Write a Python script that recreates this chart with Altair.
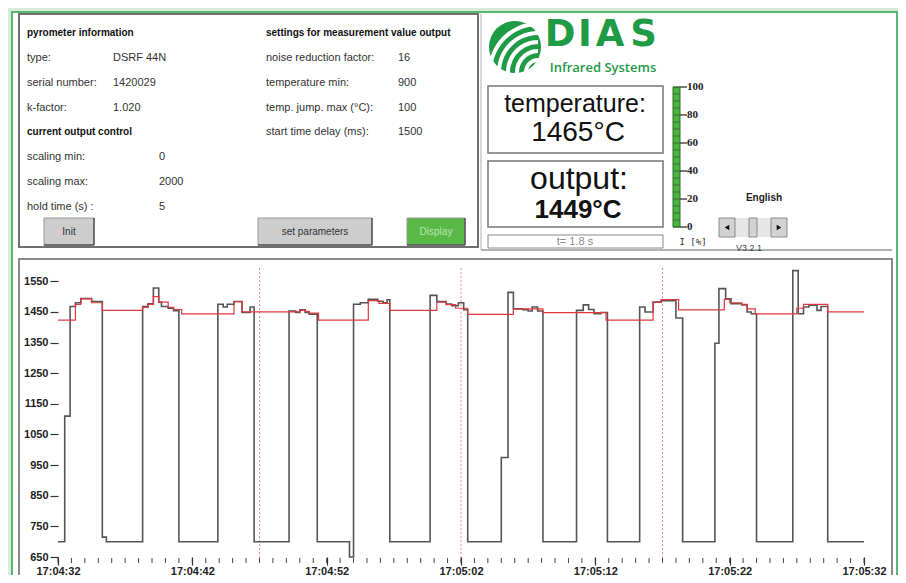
import altair as alt
import pandas as pd

# ---------------- data ----------------
# seconds after 17:04:32
black_t = [0.0, 0.5, 0.9, 1.3, 1.7, 2.5, 3.3, 3.6, 6.3, 6.7, 7.1, 7.5, 7.7, 8.2, 8.6, 9.0,
           11.9, 12.3, 12.6, 13.1, 13.7, 14.3, 14.6, 17.2, 17.7, 18.0, 18.4, 18.7, 19.3,
           21.7, 22.0, 22.5, 23.1, 23.8, 24.2, 24.5, 24.7, 27.7, 28.2, 28.9, 29.3, 29.8,
           30.2, 30.5, 33.0, 33.5, 33.9, 34.6, 35.0, 35.3, 35.7, 36.1, 38.6, 39.1, 39.5,
           39.9, 40.4, 40.9, 43.3, 43.7, 44.3, 44.9, 46.0, 46.5, 48.9, 49.2, 49.7, 50.1,
           50.9, 51.3, 51.6, 52.0, 54.7, 55.1, 55.5, 55.9, 56.5, 56.8, 57.3, 60.0]
black_v = [700, 1110, 1468, 1480, 1494, 1484, 715, 700, 1468, 1477, 1528, 1482, 1468, 1462, 1454, 700,
           1475, 1466, 1475, 1484, 1448, 1466, 700, 1453, 1448, 1457, 1448, 1443, 700,
           650, 1475, 1480, 1491, 1485, 1480, 1490, 700, 1504, 1484, 1476, 1470, 1480,
           1457, 700, 975, 1514, 1460, 1457, 1453, 1466, 1453, 700, 1455, 1473, 1458,
           1444, 1448, 700, 1466, 1450, 1482, 1487, 1430, 700, 1348, 1526, 1493, 1477,
           1473, 1450, 1444, 700, 1585, 1444, 1466, 1472, 1455, 1468, 700, 700]

red_t = [0.0, 1.3, 1.7, 2.5, 3.3, 6.3, 6.7, 7.1, 7.5, 8.2, 8.6, 9.2, 13.1, 13.7, 18.0, 18.4,
         18.7, 19.4, 23.1, 23.9, 24.7, 28.2, 28.9, 29.6, 30.5, 33.9, 36.1, 40.8, 44.3, 44.9,
         46.2, 49.6, 50.0, 50.9, 51.3, 51.9, 55.0, 55.5, 57.3, 60.0]
red_v = [1423, 1475, 1493, 1480, 1455, 1465, 1475, 1500, 1482, 1465, 1458, 1444, 1484, 1450,
         1456, 1452, 1446, 1423, 1487, 1478, 1455, 1482, 1474, 1462, 1442, 1460, 1448, 1423,
         1482, 1490, 1457, 1491, 1480, 1475, 1460, 1444, 1462, 1475, 1450, 1450]

y_tick_values = [650, 750, 850, 950, 1050, 1150, 1250, 1350, 1450, 1550]
x_tick_seconds = [0, 10, 20, 30, 40, 50, 60]
marker_seconds = [15, 30, 45]
minor_seconds = list(range(0, 61))

info_header = "pyrometer information"
info_labels = ["type:", "serial number:", "k-factor:"]
info_values = ["DSRF 44N", "1420029", "1.020"]
out_header = "current output control"
out_labels = ["scaling min:", "scaling max:", "hold time (s) :"]
out_values = ["0", "2000", "5"]
set_header = "settings for measurement value output"
set_labels = ["noise reduction factor:", "temperature min:", "temp. jump. max (°C):", "start time delay (ms):"]
set_values = ["16", "900", "100", "1500"]
buttons = ["Init", "set parameters", "Display"]
gauge_labels = ["100", "80", "60", "40", "20", "0"]

# ---------------- layout helpers (page pixels -> plot pixels) ----------------
OX, OY = 58, 266
W, H = 806, 291
FONT = "Liberation Sans"


def px(x):
    return x - OX


def py(y):
    return y - OY


one = pd.DataFrame({"k": [0]})
layers = []


def rect(x1, y1, x2, y2, fill=None, stroke=None, sw=1.0):
    kw = {}
    if fill is None:
        kw["fillOpacity"] = 0
        kw["fill"] = "#ffffff"
    else:
        kw["fill"] = fill
    if stroke is not None:
        kw["stroke"] = stroke
        kw["strokeWidth"] = sw
    layers.append(alt.Chart(one).mark_rect(**kw).encode(
        x=alt.value(px(x1)), x2=alt.value(px(x2)), y=alt.value(py(y1)), y2=alt.value(py(y2))))


def line(x1, y1, x2, y2, color="#888", sw=1.0):
    layers.append(alt.Chart(one).mark_rule(color=color, strokeWidth=sw).encode(
        x=alt.value(px(x1)), x2=alt.value(px(x2)), y=alt.value(py(y1)), y2=alt.value(py(y2))))


def text(s, x, y, size=11, weight="normal", color="#333333", align="left", font=FONT):
    layers.append(alt.Chart(one).mark_text(
        text=s, align=align, baseline="middle", fontSize=size, fontWeight=weight,
        color=color, font=font).encode(x=alt.value(px(x)), y=alt.value(py(y))))


# ---------------- frame and panels ----------------
rect(12, 12, 897, 620, fill="#ffffff", stroke="#5ab676", sw=2)
rect(19, 14, 478, 247, fill="#ffffff", stroke="#6f6f6f", sw=2)
line(481, 14, 481, 250, color="#b0b0b0", sw=1)
line(481, 250, 892, 250, color="#9a9a9a", sw=1.5)
rect(19, 259, 892, 620, fill="#ffffff", stroke="#8a8a8a", sw=2)

# left info panel
rows = [57.7, 82.7, 107.7]
text(info_header, 27, 33.3, size=10, weight="bold", color="#111")
for lab, val, yy in zip(info_labels, info_values, rows):
    text(lab, 27, yy)
    text(val, 113, yy)
text(out_header, 27, 131.7, size=10, weight="bold", color="#111")
for lab, val, yy in zip(out_labels, out_values, [156.7, 181.7, 206.7]):
    text(lab, 27, yy)
    text(val, 159, yy)
text(set_header, 266, 33.3, size=10, weight="bold", color="#111")
for lab, val, yy in zip(set_labels, set_values, [57.7, 82.7, 107.7, 131.7]):
    text(lab, 266, yy)
    text(val, 398, yy)

# buttons
btn_boxes = [(44, 218, 94, 245), (258, 218, 372, 245), (407, 218, 465, 245)]
btn_fill = ["#cdcdcd", "#cdcdcd", "#58b947"]
btn_text = ["#333333", "#333333", "#b8e6ab"]
for name, (x1, y1, x2, y2), f, tc in zip(buttons, btn_boxes, btn_fill, btn_text):
    rect(x1, y1, x2, y2, fill=f, stroke="#9a9a9a", sw=1)
    line(x1, y2, x2, y2, color="#555", sw=1.5)
    line(x2, y1, x2, y2, color="#555", sw=1.5)
    text(name, (x1 + x2) / 2, (y1 + y2) / 2, size=10, align="center", color=tc)

# logo
LOGO_G = "#1f9a45"
layers.append(alt.Chart(one).mark_arc(radius=26, theta=0, theta2=6.2832, color=LOGO_G).encode(
    x=alt.value(px(515)), y=alt.value(py(47))))
for r in [10, 19, 28, 37, 46]:
    layers.append(alt.Chart(one).mark_arc(innerRadius=r, outerRadius=r + 4, theta=4.45, theta2=6.2832,
                                          color="#ffffff").encode(
        x=alt.value(px(538)), y=alt.value(py(72))))
for ch, cx in zip("DIAS", [560, 585, 610, 643.5]):
    text(ch, cx, 35, size=37, weight="bold", color=LOGO_G, align="center", font="DejaVu Sans")
text("Infrared Systems", 603, 68, size=13, weight=600, color=LOGO_G, align="center", font="Open Sans")

# value boxes
rect(488, 86, 663, 153, stroke="#777777", sw=1.5)
rect(488, 161, 663, 227, stroke="#777777", sw=1.5)
rect(488, 235, 663, 248, stroke="#888888", sw=1)
text("temperature:", 575, 104, size=25, color="#111", align="center")
text("1465°C", 578, 133, size=28, color="#111", align="center")
text("output:", 579, 179, size=32, color="#111", align="center")
text("1449°C", 578, 210, size=26, weight="bold", color="#111", align="center")
text("t= 1.8 s", 575, 242, size=11, color="#8a8a8a", align="center")

# output gauge
rect(673, 87, 680, 227, fill="#4bb43c", stroke="#2f6f28", sw=1)
for i in range(21):
    yy = 87 + i * 7
    line(673, yy, 680, yy, color="#2d5f27", sw=0.8)
for i, lab in enumerate(gauge_labels):
    yy = 87 + i * 28
    line(680, yy, 687, yy, color="#222", sw=1.2)
    text(lab, 687, yy, size=11, weight="bold", color="#222", font="Liberation Sans Narrow")
text("I [%]", 693, 242, size=9, color="#333", align="center", font="DejaVu Sans Mono")

# language selector
text("English", 764, 198, size=10, weight="bold", color="#222", align="center")
rect(719, 218, 787, 237, fill="#e6e6e6")
rect(719, 218, 735, 237, fill="#d2d2d2", stroke="#8a8a8a", sw=1)
rect(771, 218, 787, 237, fill="#d2d2d2", stroke="#8a8a8a", sw=1)
rect(749, 218, 757, 237, fill="#d2d2d2", stroke="#8a8a8a", sw=1)
layers.append(alt.Chart(one).mark_point(shape="triangle-left", filled=True, size=28, color="#111", opacity=1).encode(
    x=alt.value(px(727)), y=alt.value(py(227.5))))
layers.append(alt.Chart(one).mark_point(shape="triangle-right", filled=True, size=28, color="#111", opacity=1).encode(
    x=alt.value(px(779)), y=alt.value(py(227.5))))
text("V3.2.1", 749, 248, size=9, color="#444", align="center")

# ---------------- main chart ----------------
xs = alt.Scale(domain=[0, 60], nice=False, zero=False)
ysc = alt.Scale(domain=[650, 1600], nice=False, zero=False)

x_axis = alt.Axis(values=x_tick_seconds, title=None, grid=False, domain=False,
                  labelExpr="timeFormat(datetime(2020, 0, 1, 17, 4, 32 + datum.value), '%H:%M:%S')",
                  tickSize=8, tickColor="#333", tickWidth=1.2, labelPadding=0, tickCount=30,
                  labelFont=FONT, labelFontSize=11, labelFontWeight="bold", labelColor="#222",
                  labelFlush=False, labelOverlap=False, zindex=1)
y_axis = alt.Axis(values=y_tick_values, title=None, grid=False, domain=False, format="d",
                  tickSize=8, tickColor="#333", tickWidth=1.2, labelPadding=2, tickCount=30,
                  labelFont=FONT, labelFontSize=11, labelFontWeight="bold", labelColor="#222",
                  labelOverlap=False, zindex=1)

black_df = pd.DataFrame({"t": black_t, "v": black_v})
red_df = pd.DataFrame({"t": red_t, "v": red_v})
marker_df = pd.DataFrame({"t": marker_seconds})
minor_df = pd.DataFrame({"t": minor_seconds})

layers.append(alt.Chart(marker_df).mark_rule(color="#f08a8a", strokeDash=[2, 2], strokeWidth=1).encode(
    x=alt.X("t:Q", scale=xs), y=alt.value(2), y2=alt.value(296)))
layers.append(alt.Chart(minor_df).mark_rule(color="#444", strokeWidth=1).encode(
    x=alt.X("t:Q", scale=xs), y=alt.value(H + 1), y2=alt.value(H + 6)))
layers.append(alt.Chart(black_df).mark_line(interpolate="step-after", color="#555555", strokeWidth=1.6).encode(
    x=alt.X("t:Q", scale=xs, axis=x_axis), y=alt.Y("v:Q", scale=ysc, axis=y_axis)))
layers.append(alt.Chart(red_df).mark_line(interpolate="step-after", color="#e0393b", strokeWidth=1.2).encode(
    x=alt.X("t:Q", scale=xs), y=alt.Y("v:Q", scale=ysc)))

chart = alt.layer(*layers).properties(
    width=W, height=H,
    autosize=alt.AutoSizeParams(type="none"),
    padding={"left": 50, "top": 258, "right": 34, "bottom": 18},
    background="#d8ebd6",
).configure_view(strokeWidth=0)

chart.save("out.html", embed_options={"renderer": "svg", "actions": False})
